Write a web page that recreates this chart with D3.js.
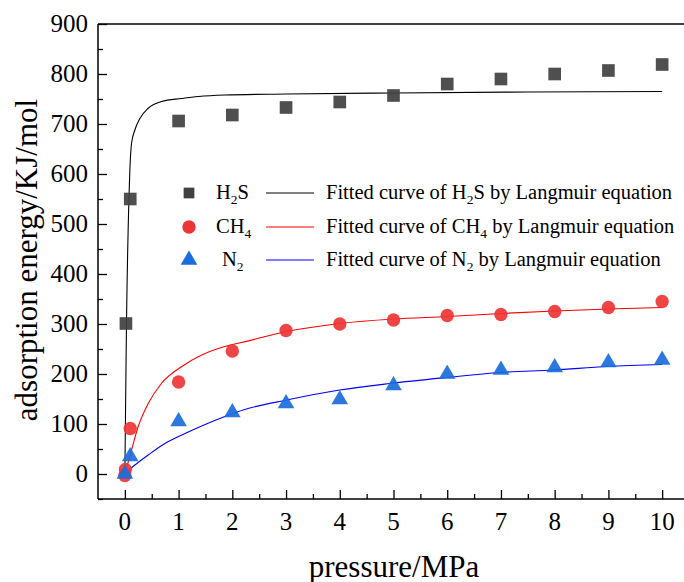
<!DOCTYPE html>
<html>
<head>
<meta charset="utf-8">
<script src="https://cdn.jsdelivr.net/npm/d3@7"></script>
<style>
body { margin: 0; background: #fff; }
svg { display: block; font-family: "Liberation Serif", "Times New Roman", serif; }
</style>
</head>
<body>
<div id="chart"></div>
<script>
// measured points, pressure (MPa) vs adsorption energy
var h2sP = [0.02, 0.1, 1, 2, 3, 4, 5, 6, 7, 8, 9, 10];
var h2sE = [301, 550, 706, 718, 733, 744, 757, 780, 790, 800, 807, 819];
var ch4P = [0, 0.01, 0.1, 1, 2, 3, 4, 5, 6, 7, 8, 9, 10];
var ch4E = [-3, 9, 91, 184, 246, 287, 300, 308, 317, 319, 325, 333, 345];
var n2P = [0, 0.1, 1, 2, 3, 4, 5, 6, 7, 8, 9, 10];
var n2E = [0, 35, 105, 123, 141, 149, 177, 200, 208, 213, 223, 228];

// fitted Langmuir curves
var h2sFitP = [0, 0.03, 0.075, 0.093, 0.124, 0.186, 0.28, 0.43, 0.68, 1.06, 1.37, 1.86, 3, 5, 7.5, 10];
var h2sFitE = [0, 300, 548, 608, 661, 688, 711, 731, 745, 751, 755, 758, 760, 762, 764, 765];
var ch4FitP = [0, 0.124, 0.248, 0.434, 0.68, 1.06, 1.43, 1.86, 2.17, 3.01, 4, 5, 6, 7, 8, 9, 10];
var ch4FitE = [0, 48, 95, 141, 181, 215, 238, 255, 263, 285, 301, 310, 315, 321, 326, 330, 333];
var n2FitP = [0, 0.186, 0.434, 0.745, 1.06, 1.43, 1.86, 2.23, 3.01, 4, 4.93, 5.99, 6.98, 7.98, 8.97, 10];
var n2FitE = [0, 18, 38, 61, 78, 96, 115, 129, 148, 168, 181, 193, 203, 208, 215, 219];

var xTicks = [0, 1, 2, 3, 4, 5, 6, 7, 8, 9, 10];
var yTicks = [0, 100, 200, 300, 400, 500, 600, 700, 800, 900];

// name pieces: [text, isSubscript]
var legendNames = [
  [["H", 0], ["2", 1], ["S", 0]],
  [["CH", 0], ["4", 1]],
  [["N", 0], ["2", 1]]
];

var W = 684, H = 582;
var pLeft = 98, pTop = 24, pBottom = 499, pRight = 689;

var svg = d3.select('#chart').append('svg')
  .attr('width', W).attr('height', H);

var x = d3.scaleLinear().domain([-0.5, 10.5]).range([pLeft, pRight]);
var y = d3.scaleLinear().domain([-50, 900]).range([pBottom, pTop]);

function zip(a, b) { return a.map(function(v, i) { return {x: v, y: b[i]}; }); }

var line = d3.line()
  .x(function(d) { return x(d.x); })
  .y(function(d) { return y(d.y); })
  .curve(d3.curveMonotoneX);

// frame top
svg.append('line')
  .attr('x1', pLeft).attr('x2', pRight).attr('y1', pTop).attr('y2', pTop)
  .attr('stroke', '#000').attr('stroke-width', 1.5);

// y axis, ticks inward
var yAxis = svg.append('g')
  .attr('transform', 'translate(' + pLeft + ',0)')
  .call(d3.axisRight(y).tickValues(yTicks).tickSize(9).tickFormat(''));
yAxis.select('.domain').attr('stroke-width', 1.5).attr('d', 'M0,' + pTop + 'V' + pBottom);
yAxis.selectAll('.tick line').attr('stroke-width', 1.3);
svg.append('g')
  .attr('transform', 'translate(' + pLeft + ',0)')
  .call(d3.axisRight(y).tickValues(d3.range(-50, 900, 100)).tickSize(5).tickFormat(''))
  .call(function(g) { g.select('.domain').remove(); g.selectAll('line').attr('stroke-width', 1.3); });
svg.selectAll('.ylab').data(yTicks).enter().append('text')
  .attr('class', 'ylab')
  .attr('x', pLeft - 10).attr('y', function(d) { return y(d) + 8; })
  .attr('text-anchor', 'end').attr('font-size', 25)
  .text(function(d) { return d; });

// x axis, ticks inward
var xAxis = svg.append('g')
  .attr('transform', 'translate(0,' + pBottom + ')')
  .call(d3.axisTop(x).tickValues(xTicks).tickSize(9).tickFormat(''));
xAxis.select('.domain').attr('stroke-width', 1.5).attr('d', 'M' + pLeft + ',0H' + pRight);
xAxis.selectAll('.tick line').attr('stroke-width', 1.3);
svg.append('g')
  .attr('transform', 'translate(0,' + pBottom + ')')
  .call(d3.axisTop(x).tickValues(d3.range(0.5, 10.5, 1)).tickSize(5).tickFormat(''))
  .call(function(g) { g.select('.domain').remove(); g.selectAll('line').attr('stroke-width', 1.3); });
svg.selectAll('.xlab').data(xTicks).enter().append('text')
  .attr('class', 'xlab')
  .attr('x', function(d) { return x(d); }).attr('y', pBottom + 31)
  .attr('text-anchor', 'middle').attr('font-size', 25)
  .text(function(d) { return d; });

// axis titles
svg.append('text')
  .attr('transform', 'translate(37,260) rotate(-90)')
  .attr('text-anchor', 'middle').attr('font-size', 31)
  .text('adsorption energy/KJ/mol');
svg.append('text')
  .attr('x', 394).attr('y', 577)
  .attr('text-anchor', 'middle').attr('font-size', 31)
  .text('pressure/MPa');

// fitted curves
svg.append('path').datum(zip(h2sFitP, h2sFitE)).attr('d', line)
  .attr('fill', 'none').attr('stroke', '#000').attr('stroke-width', 1.1);
svg.append('path').datum(zip(ch4FitP, ch4FitE)).attr('d', line)
  .attr('fill', 'none').attr('stroke', '#ff0000').attr('stroke-width', 1.1);
svg.append('path').datum(zip(n2FitP, n2FitE)).attr('d', line)
  .attr('fill', 'none').attr('stroke', '#0000ff').attr('stroke-width', 1.1);

var sq = d3.symbol().type(d3.symbolSquare).size(160);
var ci = d3.symbol().type(d3.symbolCircle).size(140);
var tr = d3.symbol().type(d3.symbolTriangle).size(120);

function markers(data, sym, color) {
  svg.append('g').selectAll('path').data(data).enter().append('path')
    .attr('d', sym)
    .attr('transform', function(d) { return 'translate(' + x(d.x) + ',' + y(d.y) + ')'; })
    .attr('fill', color).attr('fill-opacity', 0.92);
}
markers(zip(h2sP, h2sE), sq, '#404040');
markers(zip(ch4P, ch4E), ci, '#ee3535');
markers(zip(n2P, n2E), tr, '#1a6ddc');

// subscript pieces go lower and smaller, next piece comes back up
function appendFormula(t, pieces, state) {
  pieces.forEach(function(p) {
    var s = t.append('tspan').text(p[0]);
    if (p[1]) { s.attr('dy', 5).attr('font-size', 13.5); state.down = true; }
    else if (state.down) { s.attr('dy', -5); state.down = false; }
  });
}

// legend
var legSyms = [d3.symbol().type(d3.symbolSquare).size(115), ci, tr];
var legColors = ['#404040', '#ee3535', '#1a6ddc'];
var lineColors = ['#000', '#ff0000', '#0000ff'];
var rowY = [193, 227, 260];
var labX = [216, 216, 222];

legendNames.forEach(function(name, i) {
  var g = svg.append('g');
  g.append('path').attr('d', legSyms[i])
    .attr('transform', 'translate(189,' + rowY[i] + ')')
    .attr('fill', legColors[i]);
  var t = g.append('text').attr('x', labX[i]).attr('y', rowY[i] + 6).attr('font-size', 20.5);
  appendFormula(t, name, {down: false});
  g.append('line').attr('x1', 266).attr('x2', 314).attr('y1', rowY[i]).attr('y2', rowY[i])
    .attr('stroke', lineColors[i]).attr('stroke-width', 1.1);
  var t2 = g.append('text').attr('x', 326).attr('y', rowY[i] + 6).attr('font-size', 20.5);
  var st = {down: false};
  t2.append('tspan').text('Fitted curve of ');
  appendFormula(t2, name, st);
  var tail = t2.append('tspan').text(' by Langmuir equation');
  if (st.down) tail.attr('dy', -5);
});
</script>
</body>
</html>
